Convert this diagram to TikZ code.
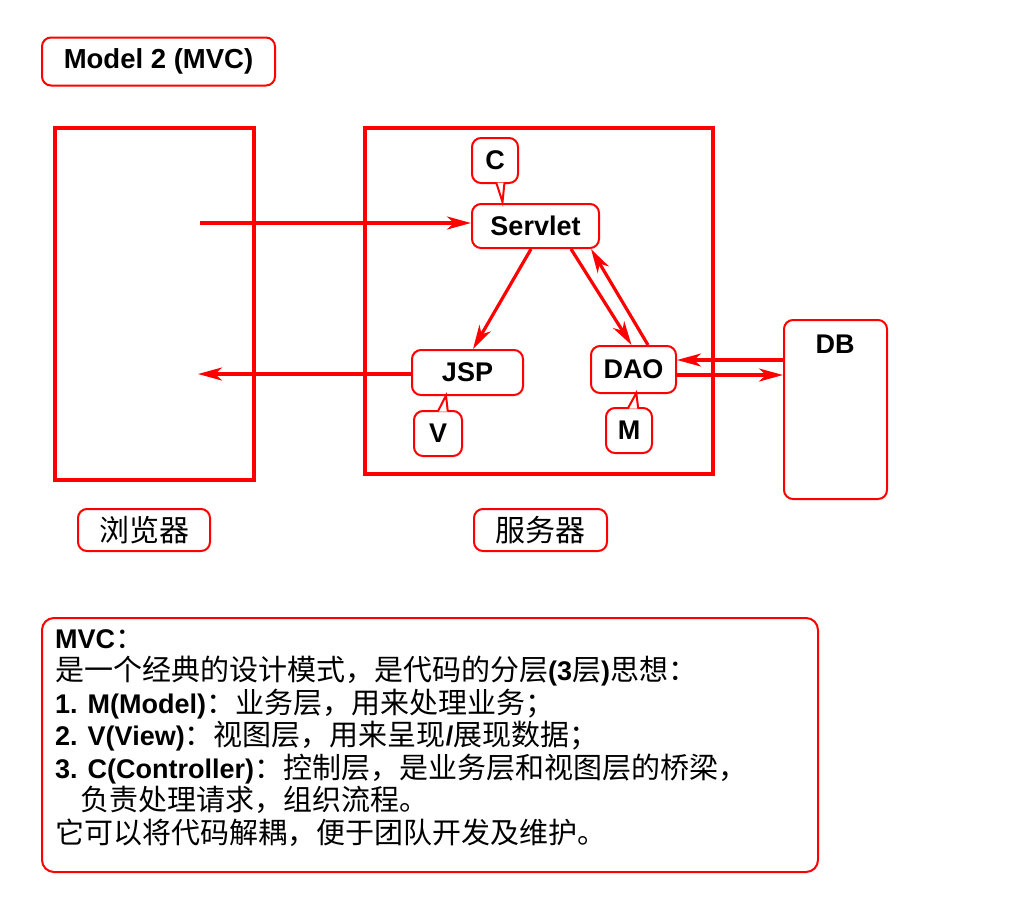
\documentclass[tikz,border=0pt]{standalone}
\usepackage{fontspec}
\setmainfont{Liberation Sans}
\newfontfamily\cjkfont{Noto Sans CJK SC}
\usetikzlibrary{arrows.meta,calc}
\definecolor{pptred}{RGB}{255,0,0}
\newcommand\zhtxt[1]{{\fontsize{29}{32}\selectfont\cjkfont\mdseries #1}}
\newcommand\mylabfont{\fontsize{27}{30}\selectfont\bfseries}
\newcommand\myzhfont{\fontsize{30}{32}\selectfont\cjkfont}
\tikzset{
  rbox/.style={draw=pptred, line width=2pt, rounded corners=9pt, fill=white, inner sep=0pt, font=\mylabfont},
  frame/.style={draw=pptred, line width=3.4pt, inner sep=0pt},
  arr/.style={draw=pptred, line width=3.2pt, -{Stealth[length=24pt,width=13pt,inset=7pt]}},
  ptr/.style={draw=pptred, line width=2pt, fill=white, line join=miter},
  txt/.style={anchor=base west, inner sep=0pt, font=\fontsize{27}{32}\selectfont\bfseries},
}
\begin{document}
\begin{tikzpicture}[x=1pt,y=-1pt]
\useasboundingbox[fill=white] (0,0) rectangle (1024,919);

% title
\node[rbox, minimum width=233pt, minimum height=48pt, font=\fontsize{27.5}{30}\selectfont\bfseries] (title) at (158.5,61.5) {Model 2 (MVC)};

% frames
\node[frame, minimum width=199pt, minimum height=352pt] (browser) at (154.5,304) {};
\node[frame, minimum width=348pt, minimum height=346pt] (server) at (539,301) {};

% inner boxes
\node[rbox, minimum width=127pt, minimum height=44pt] (servlet) at (535.5,226) {Servlet};
\node[rbox, minimum width=111pt, minimum height=45pt] (jsp) at (467.5,372.5) {JSP};
\node[rbox, minimum width=85pt, minimum height=47pt] (dao) at (633.5,369.5) {DAO};
\node[rbox, minimum width=103pt, minimum height=179pt] (db) at (835.5,409.5) {};
\node[inner sep=0pt, font=\mylabfont] (dblabel) at (835,344) {DB};

% callouts
\node[rbox, minimum width=46pt, minimum height=45pt] (cc) at (495,160.5) {C};
\path[ptr] ($(cc.south)+(1.2,-1.5)$) -- ($(cc.south)+(7.5,18)$) -- ($(cc.south)+(9.5,-1.5)$);
\node[rbox, minimum width=48pt, minimum height=45pt] (vv) at (438,433.5) {V};
\path[ptr] ($(vv.north)+(-0.2,1.5)$) -- ($(vv.north)+(8,-14.5)$) -- ($(vv.north)+(9.8,1.5)$);
\node[rbox, minimum width=46pt, minimum height=45pt] (mm) at (629,430.5) {M};
\path[ptr] ($(mm.north)+(-1.2,1.5)$) -- ($(mm.north)+(7.3,-14)$) -- ($(mm.north)+(9.2,1.5)$);

% captions
\node[rbox, minimum width=132pt, minimum height=42pt, font=\myzhfont] (bcap) at (144,530) {浏览器};
\node[rbox, minimum width=133pt, minimum height=42pt, font=\myzhfont] (scap) at (540.5,530) {服务器};

% connectors
\coordinate (b1) at (200,223);
\coordinate (b2) at (198,374);
\coordinate (y1) at (0,360);
\coordinate (y2) at (0,375);
\draw[arr] (b1) -- (b1 -| servlet.west);
\draw[arr] (b2 -| jsp.west) -- (b2);
\draw[arr] ([xshift=-4.5pt]servlet.south) -- ([xshift=5.5pt]jsp.north);
\draw[arr] ([xshift=-29pt]servlet.south east) -- ([xshift=-2pt]dao.north);
\draw[arr] ([xshift=14.5pt]dao.north) -- ([xshift=-9pt]servlet.south east);
\draw[arr] (y1 -| db.west) -- (y1 -| dao.east);
\draw[arr] (y2 -| dao.east) -- (y2 -| db.west);

% explanation box
\node[rbox, rounded corners=12pt, minimum width=776pt, minimum height=254pt] (mvcbox) at (430,745) {};
\node[txt] (l1) at (55,648) {MVC\zhtxt{：}};
\node[txt] (l2) at (55,680.5) {\zhtxt{是一个经典的设计模式，是代码的分层}(3\zhtxt{层})\zhtxt{思想：}};
\node[txt] (l3) at (55,713) {1. M(Model)\zhtxt{：业务层，用来处理业务；}};
\node[txt] (l4) at (55,745.5) {2. V(View)\zhtxt{：视图层，用来呈现}/\zhtxt{展现数据；}};
\node[txt] (l5) at (55,778) {3. C(Controller)\zhtxt{：控制层，是业务层和视图层的桥梁，}};
\node[txt] (l6) at (80,810.5) {\zhtxt{负责处理请求，组织流程。}};
\node[txt] (l7) at (55,843) {\zhtxt{它可以将代码解耦，便于团队开发及维护。}};
\end{tikzpicture}
\end{document}
